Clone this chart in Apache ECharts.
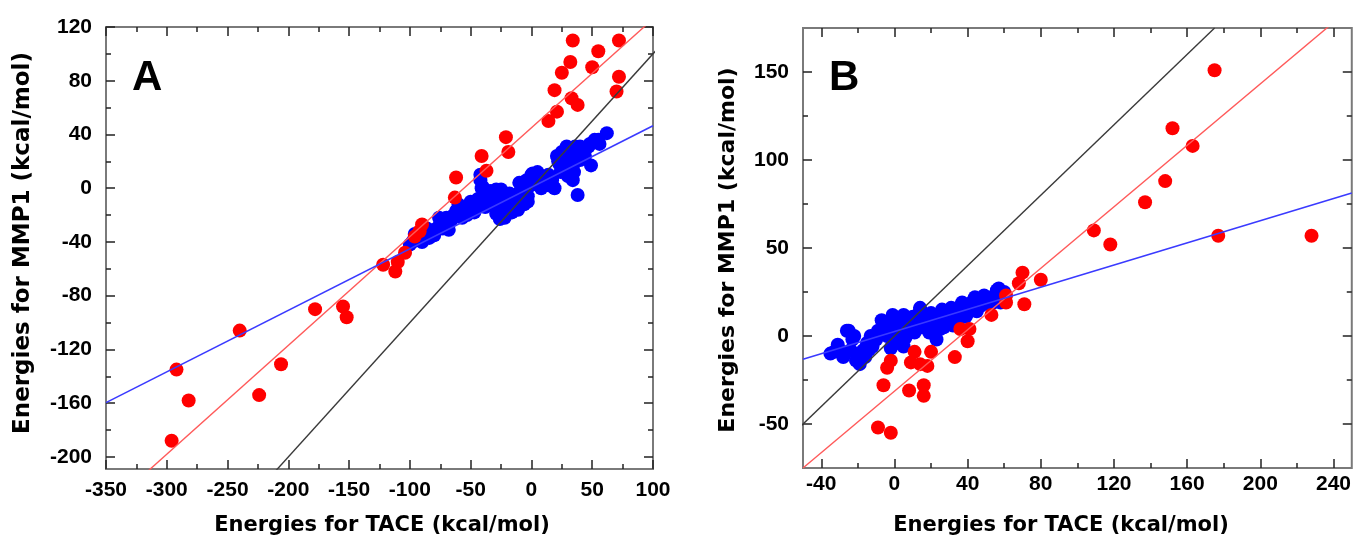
<!DOCTYPE html>
<html>
<head>
<meta charset="utf-8">
<script src="https://cdn.jsdelivr.net/npm/echarts@6/dist/echarts.min.js"></script>
<style>
html,body{margin:0;padding:0;background:#fff;}
#chart{width:1354px;height:545px;}
</style>
</head>
<body>
<div id="chart"></div>
<script>
// ---------- Panel A data ----------
const aRed = [[-296,-188],[-292,-135],[-282,-158],[-240,-106],[-224,-154],[-206,-131],[-178,-90],[-155,-88],[-152,-96],[-122,-57],[-112,-62],[-110,-55],[-104,-48],[-96,-36],[-92,-32],[-90,-27],[-63,-7],[-62,8],[-41,24],[-37,13],[-21,38],[-19,27],[14,50],[21,57],[19,73],[25,86],[32,94],[34,110],[33,67],[38,62],[50,90],[55,102],[72,110],[72,83],[70,72]];
const aBlue = [[-98,-40],[-94,-38],[-90,-40],[-88,-36],[-84,-37],[-82,-33],[-78,-30],[-75,-26],[-72,-25],[-70,-22],[-68,-31],[-66,-24],[-62,-17],[-59,-17],[-56,-16],[-53,-20],[-51,-16],[-48,-14],[-45,-12],[-42,6],[-42,10],[-41,0],[-40,1],[-37,-4],[-35,-8],[-32,-3],[-29,-1],[-29,-19],[-27,-11],[-26,-23],[-25,-1],[-23,-20],[-22,-22],[-20,-6],[-19,-10],[-15,-14],[-11,-16],[-11,-4],[-10,4],[-7,1],[-3,-10],[-3,-6],[0,10],[1,11],[4,3],[7,4],[10,8],[12,6],[15,2],[18,1],[19,0],[21,24],[23,18],[25,27],[26,16],[26,14],[29,31],[30,9],[30,11],[32,24],[34,16],[34,6],[37,29],[37,24],[38,-5],[40,21],[40,31],[43,27],[45,30],[47,31],[49,17],[51,34],[55,36],[62,41],
  [-100,-42],[-96,-34],[-86,-30],[-80,-35],[-76,-22],[-73,-30],[-64,-20],[-60,-12],[-57,-22],[-50,-10],[-47,-18],[-44,-8],[-38,-14],[-34,-2],[-31,-12],[-28,-6],[-24,-14],[-18,-4],[-16,-18],[-13,-8],[-8,-2],[-6,-12],[-4,6],[-1,2],[2,6],[5,12],[8,0],[11,3],[14,10],[17,6],[22,20],[24,12],[27,22],[28,18],[31,28],[33,20],[35,12],[36,31],[39,26],[42,30],[44,24],[48,33],[52,36],[56,33]];
const aIdentity = [[-350,-350],[120,120]];
const aRedFit = [[-350,-238.5],[100,126]];
const aBlueFit = [[-350,-159.6],[100,46.5]];
const aXMajor = [-350,-300,-250,-200,-150,-100,-50,0,50,100];
const aXMinor = [-325,-275,-225,-175,-125,-75,-25,25,75];
const aYMajor = [-200,-160,-120,-80,-40,0,40,80,120];
const aYMinor = [-180,-140,-100,-60,-20,20,60,100];

// ---------- Panel B data ----------
const bRed = [[-9,-52],[-2,-55],[-6,-28],[-4,-18],[-2,-14],[8,-31],[16,-28],[16,-34],[9,-15],[11,-9],[14,-16],[18,-17],[20,-9],[33,-12],[36,4],[41,4],[40,-3],[53,12],[61,19],[61,23],[68,30],[70,36],[71,18],[80,32],[109,60],[118,52],[137,76],[148,88],[152,118],[163,108],[175,151],[177,57],[228,57]];
const bBlue = [[-35,-10],[-33,-9],[-30,-8],[-27,-10],[-26,3],[-25,3],[-23,-2],[-21,-14],[-19,-16],[-18,-12],[-17,-8],[-15,-4],[-13,0],[-12,-6],[-10,-2],[-7,9],[-5,8],[-1,12],[1,5],[-2,-7],[0,0],[2,-4],[4,2],[6,-1],[7,7],[8,4],[10,11],[12,6],[14,16],[14,15],[16,9],[18,5],[19,2],[21,8],[23,-2],[23,9],[25,4],[27,5],[28,10],[30,13],[32,6],[34,11],[36,17],[38,14],[39,11],[41,16],[43,20],[45,14],[47,17],[48,18],[50,20],[53,22],[54,19],[56,26],[58,19],[60,25],
  [-31,-5],[-28,-12],[-24,-8],[-22,0],[-20,-10],[-16,-12],[-14,-8],[-9,3],[-6,4],[-3,6],[-4,0],[-1,-4],[1,9],[3,10],[5,-6],[5,12],[9,8],[11,2],[13,12],[15,5],[17,12],[20,13],[22,4],[24,12],[26,15],[29,8],[31,16],[33,14],[35,9],[37,19],[40,13],[42,18],[44,22],[46,19],[49,23],[52,18],[55,22],[57,27]];
const bIdentity = [[-75,-75],[175,175]];
const bRedFit = [[-50,-75.05],[250,186.9]];
const bBlueFit = [[-50,-13.25],[250,81.25]];
const bXMajor = [-40,0,40,80,120,160,200,240];
const bXMinor = [-20,20,60,100,140,180,220];
const bYMajor = [-50,0,50,100,150];
const bYMinor = [-25,25,75,125];

const labels = {
  xTitle: 'Energies for TACE (kcal/mol)',
  yTitle: 'Energies for MMP1 (kcal/mol)',
  a: 'A', b: 'B'
};

const tickColor = '#222';
const labelFont = {fontFamily: '"Liberation Sans", Arial, sans-serif', fontWeight: 'bold', fontSize: 21, color: '#000'};

function makeAxes(dim, gridIndex, min, max, majors, minors, margin) {
  const pos = dim === 'x' ? ['bottom','top'] : ['left','right'];
  const base = {type:'value', gridIndex, min, max, splitLine:{show:false},
    axisLine:{show:false, onZero:false}};
  const tick = (vals, len) => ({show:true, inside:true, length:len, customValues: vals,
    lineStyle:{color:tickColor, width:1.5}});
  return [
    Object.assign({}, base, {position:pos[0], axisTick: tick(majors, 9),
      axisLabel: Object.assign({show:true, customValues: majors, margin}, labelFont)}),
    Object.assign({}, base, {position:pos[0], axisTick: tick(minors, 5), axisLabel:{show:false}}),
    Object.assign({}, base, {position:pos[1], axisTick: tick(majors, 9), axisLabel:{show:false}}),
    Object.assign({}, base, {position:pos[1], axisTick: tick(minors, 5), axisLabel:{show:false}})
  ];
}

const xAxes = [].concat(
  makeAxes('x', 0, -350, 100, aXMajor, aXMinor, 11),
  makeAxes('x', 1, -50, 250, bXMajor, bXMinor, 6)
);
const yAxes = [].concat(
  makeAxes('y', 0, -209, 120, aYMajor, aYMinor, 14),
  makeAxes('y', 1, -75, 175, bYMajor, bYMinor, 14)
);

function scatter(data, color, xi, yi) {
  return {type:'scatter', data, xAxisIndex:xi, yAxisIndex:yi, symbol:'circle', symbolSize:14,
    itemStyle:{color, opacity:1}, z:2};
}
function fit(data, color, width, xi, yi) {
  return {type:'line', data, xAxisIndex:xi, yAxisIndex:yi, showSymbol:false, symbol:'none',
    clip:true, lineStyle:{color, width}, z:3, silent:true};
}

const titleFont = 'bold 21px "DejaVu Sans", sans-serif';
const option = {
  animation:false,
  backgroundColor:'#fff',
  grid:[
    {left:106, top:27, width:547, height:442, show:true, borderColor:'#7a7a7a', borderWidth:2, backgroundColor:'transparent'},
    {left:803, top:28, width:549, height:440, show:true, borderColor:'#7a7a7a', borderWidth:2, backgroundColor:'transparent'}
  ],
  xAxis: xAxes,
  yAxis: yAxes,
  series:[
    scatter(aBlue, '#0000ff', 0, 0),
    scatter(aRed, '#ff0000', 0, 0),
    fit(aIdentity, '#3a3a3a', 1.4, 0, 0),
    fit(aRedFit, '#ff5a5a', 1.4, 0, 0),
    fit(aBlueFit, '#3a3aff', 1.6, 0, 0),
    scatter(bBlue, '#0000ff', 4, 4),
    scatter(bRed, '#ff0000', 4, 4),
    fit(bIdentity, '#3a3a3a', 1.4, 4, 4),
    fit(bRedFit, '#ff5a5a', 1.4, 4, 4),
    fit(bBlueFit, '#3a3aff', 1.6, 4, 4)
  ],
  graphic:[
    {type:'text', x:382, y:526, style:{text:labels.xTitle, font:titleFont, fill:'#000', textAlign:'center', textVerticalAlign:'middle'}},
    {type:'text', x:1061, y:526, style:{text:labels.xTitle, font:titleFont, fill:'#000', textAlign:'center', textVerticalAlign:'middle'}},
    {type:'text', x:23, y:243, rotation:Math.PI/2, style:{text:labels.yTitle, font:'bold 23px "DejaVu Sans", sans-serif', fill:'#000', textAlign:'center', textVerticalAlign:'middle'}},
    {type:'text', x:728, y:250, rotation:Math.PI/2, style:{text:labels.yTitle, font:'bold 22px "DejaVu Sans", sans-serif', fill:'#000', textAlign:'center', textVerticalAlign:'middle'}},
    {type:'text', x:132, y:78, style:{text:labels.a, font:'bold 42px "Liberation Sans", Arial, sans-serif', fill:'#000', textAlign:'left', textVerticalAlign:'middle'}},
    {type:'text', x:829, y:78, style:{text:labels.b, font:'bold 42px "Liberation Sans", Arial, sans-serif', fill:'#000', textAlign:'left', textVerticalAlign:'middle'}}
  ]
};
const chart = echarts.init(document.getElementById('chart'), null, {renderer:'canvas'});
chart.setOption(option);
</script>
</body>
</html>
